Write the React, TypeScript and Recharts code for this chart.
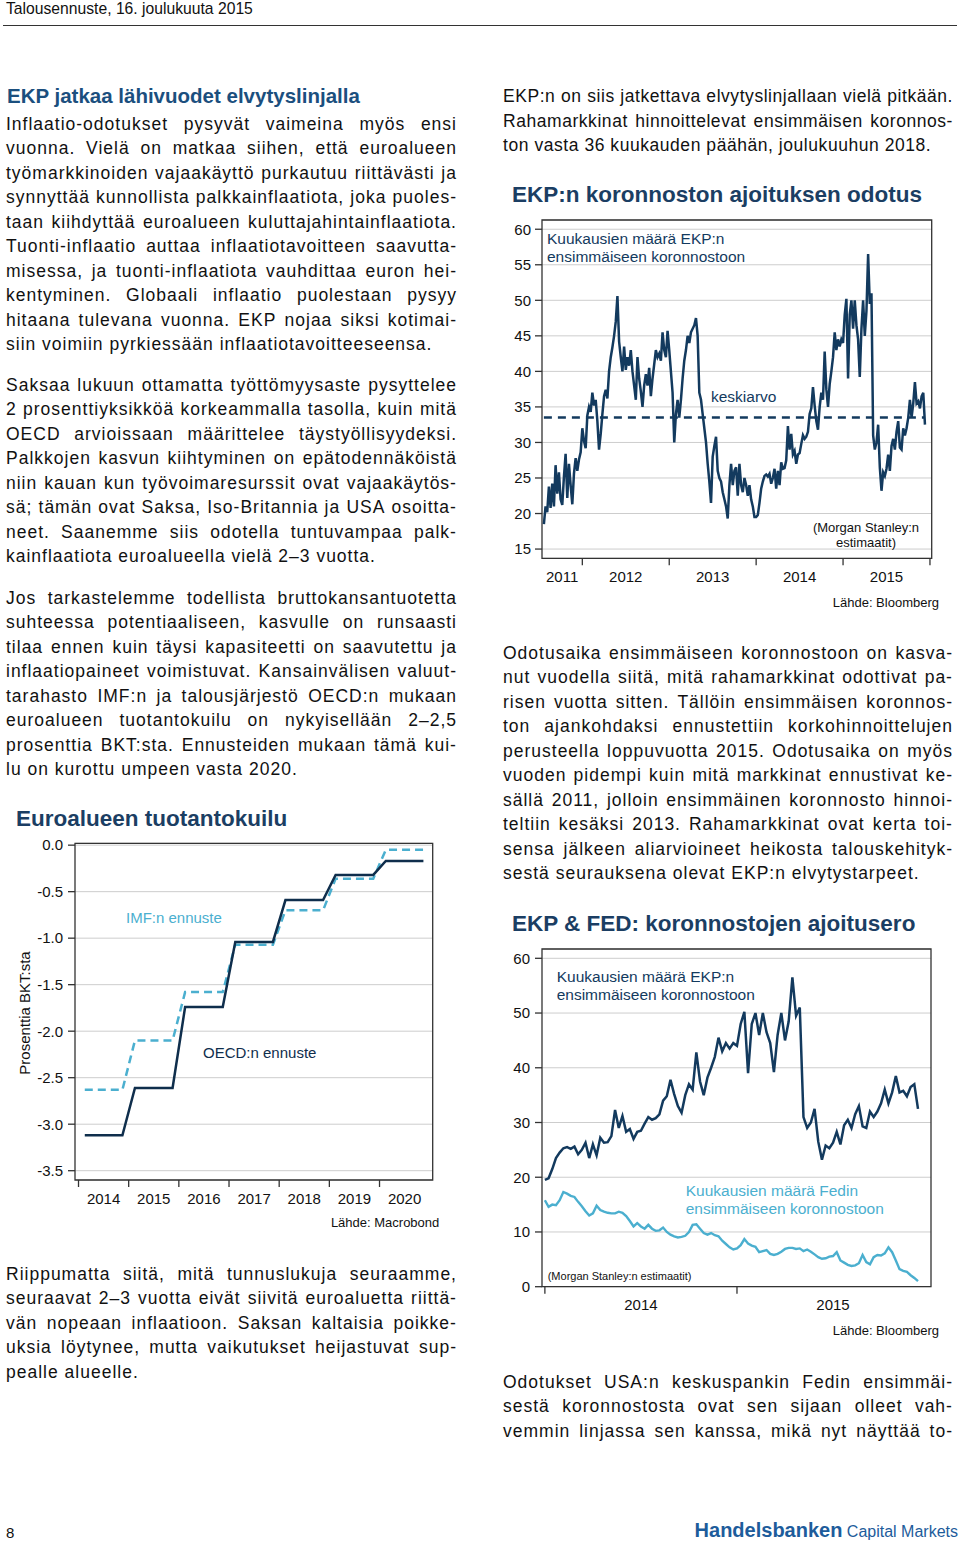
import React from "react";
import {
  CartesianGrid,
  Line,
  LineChart,
  ReferenceArea,
  ReferenceLine,
  XAxis,
  YAxis,
} from "recharts";

const FONT = '"Liberation Sans", Arial, Helvetica, sans-serif';
const NAVY = "#133a5e";
const TEAL = "#4bafcf";
const TITLE_BLUE = "#1b4f7e";
const TITLE_NAVY = "#1b3e63";
const LH = 24.5;

// EKP: kuukausia ensimmäiseen koronnostoon, viikkohavainnot heinäkuu 2011 - joulukuu 2013
const ekpEarly = [
  18.5, 21.0, 20.2, 23.8, 20.8, 24.2, 21.0, 26.8, 22.8, 25.8,
  22.0, 21.2, 25.2, 28.4, 22.2, 27.0, 24.0, 21.3, 25.6, 27.8,
  26.0, 27.6, 28.6, 32.0, 30.2, 29.2, 33.8, 35.0, 34.3, 37.0,
  35.2, 36.0, 33.0, 29.0, 31.2, 34.0, 36.5, 37.4, 36.2, 40.0,
  42.0, 43.4, 45.0, 47.0, 50.6, 44.2, 42.0, 40.0, 43.5, 40.2,
  42.0, 40.8, 43.0, 40.0, 38.0, 36.0, 42.0, 39.0, 37.2, 35.0,
  38.0, 39.6, 38.0, 40.5, 36.5, 39.0, 41.0, 43.0, 42.0, 42.5,
  41.5, 45.5, 43.0, 42.0, 45.7, 43.0, 40.0, 37.0, 30.0, 34.0,
  36.0, 33.5, 36.0, 39.0, 41.5, 43.0, 45.0, 44.0, 45.5, 46.0,
  46.5, 47.5, 45.0, 37.0, 36.0, 34.0, 32.0, 30.0, 27.0, 24.5,
  21.5, 28.0, 29.5, 30.8, 26.0, 25.0, 24.5, 23.0, 22.0, 21.0,
  19.3, 24.0, 27.0, 24.0, 26.0, 26.5, 22.5, 27.0, 24.0, 23.0,
  25.0, 24.0, 22.5, 24.0, 22.0, 21.0, 19.5,
];

// EKP, viikkohavainnot tammikuu 2014 - joulukuu 2015
const ekpLate = [
  19.5, 19.8, 21.5, 23.5, 24.5, 25.3, 25.5, 25.2, 25.6, 24.2,
  25.0, 26.3, 23.5, 26.0, 24.0, 27.2, 26.3, 26.4, 27.5, 32.3,
  29.0, 31.2, 28.3, 28.8, 27.0, 28.3, 28.5, 29.8, 31.0, 30.5,
  30.8, 31.5, 34.0, 34.8, 37.8, 35.2, 33.0, 31.8, 35.0, 37.0,
  36.0, 42.8, 37.5, 35.0, 38.2, 40.0, 42.0, 45.5, 43.0, 44.5,
  43.5, 44.5, 44.0, 48.0, 50.2, 39.0, 48.0, 50.0, 46.0, 50.0,
  46.5, 44.5, 39.2, 46.0, 50.0, 45.0, 48.5, 56.5, 49.5, 51.0,
  31.0, 29.0, 30.0, 32.5, 26.5, 23.2, 25.8, 25.3, 26.3, 28.3,
  26.0, 29.5, 30.5, 29.0, 31.5, 33.0, 29.3, 29.0, 32.0, 31.0,
  32.0, 33.5, 36.0, 33.5, 35.5, 38.5, 35.5, 35.8, 34.8, 36.5,
  37.0, 32.5,
];

// Fed, viikkohavainnot tammikuu 2014 - joulukuu 2015
const fedLate = [
  15.8, 14.6, 15.0, 14.9, 15.8, 17.3, 17.0, 16.6, 16.4, 15.5,
  14.7, 13.8, 13.0, 13.4, 14.8, 14.0, 13.7, 13.5, 13.4, 13.4,
  13.7, 13.5, 12.9, 12.0, 11.0, 11.6, 11.0, 10.6, 11.3, 10.6,
  10.2, 10.3, 10.8, 10.0, 9.5, 9.2, 9.0, 9.1, 9.3, 10.0,
  11.3, 11.4, 10.6, 9.8, 9.5, 9.8, 9.4, 9.2, 8.4, 7.8,
  7.2, 6.8, 7.0, 7.6, 8.7, 7.9, 7.5, 7.3, 6.3, 6.5,
  6.7, 6.0, 5.8, 6.0, 6.4, 6.9, 7.1, 7.1, 6.9, 7.0,
  6.5, 6.8, 6.4, 5.9, 5.4, 5.1, 5.2, 5.5, 5.6, 6.3,
  4.8, 4.4, 4.0, 3.8, 3.9, 4.3, 5.8, 4.5, 4.1, 5.4,
  5.8, 5.7, 6.1, 7.2, 6.3, 4.8, 3.2, 2.9, 2.7, 2.1,
  1.6, 1.0,
];

const ekpAverage = 33.5;

// Tuotantokuilu, % BKT:sta
const gapYears = [2014, 2015, 2016, 2017, 2018, 2019, 2020];
const oecdGap = [-3.12, -2.61, -1.74, -1.04, -0.59, -0.32, -0.17];
const imfGap = [-2.63, -2.1, -1.58, -1.07, -0.7, -0.36, -0.05];

const ecbYears = [2011, 2012, 2013, 2014, 2015];
const spreadYears = [2014, 2015];

const ecbData = [
  ...ekpEarly.map((v, i) => ({ t: 2014 - (ekpEarly.length - i) / 52, ekp: v })),
  ...ekpLate.map((v, i) => ({ t: 2014 + i / 52, ekp: v })),
];
const spreadData = ekpLate.map((v, i) => ({ t: 2014 + i / 52, ekp: v, fed: fedLate[i] }));
const gapData = gapYears.flatMap((y, i) =>
  [0, 1, 2, 3].map((q) => ({ t: y + 0.125 + 0.25 * q, oecd: oecdGap[i], imf: imfGap[i] }))
);

function labelPos(years: number[], lo: number, hi: number) {
  return years.map((y) => (Math.max(y, lo) + Math.min(y + 1, hi)) / 2);
}

function yearTick(marks: number[], labels: number[], names: number[]) {
  return (props: any) => {
    const { x, y, payload } = props;
    const idx = labels.findIndex((l) => Math.abs(l - payload.value) < 1e-6);
    if (idx >= 0) {
      return (
        <text x={x} y={y + 23.5} textAnchor="middle" fontSize={15} fill="#111">
          {names[idx]}
        </text>
      );
    }
    if (marks.some((m) => m === payload.value)) {
      return <line x1={x} x2={x} y1={y} y2={y + 7} stroke="#333" strokeWidth={1.3} />;
    }
    return <g />;
  };
}

const ECB_DOMAIN: [number, number] = [2011.536, 2016.02];
const ecbMarks = [2012, 2013, 2014, 2015, 2016];
const ecbLabels = labelPos(ecbYears, ECB_DOMAIN[0], ECB_DOMAIN[1]);

const SPREAD_DOMAIN: [number, number] = [2013.985, 2016.01];
const spreadMarks = [2014, 2015];
const spreadLabels = labelPos(spreadYears, SPREAD_DOMAIN[0], SPREAD_DOMAIN[1]);

const GAP_DOMAIN: [number, number] = [2013.93, 2021.06];
const gapMarks = gapYears;
const gapLabels = labelPos(gapYears, GAP_DOMAIN[0], GAP_DOMAIN[1]);

function EcbChart() {
  const yDom: [number, number] = [13.7, 61.3];
  return (
    <div style={{ position: "absolute", left: 500, top: 210, fontFamily: FONT }}>
      <LineChart width={450} height={390} data={ecbData} margin={{ top: 10, right: 18.3, bottom: 11.7, left: 0 }}>
        <CartesianGrid vertical={false} stroke="#cdcdcd" />
        <XAxis
          type="number"
          dataKey="t"
          domain={ECB_DOMAIN}
          allowDataOverflow
          ticks={[...ecbMarks, ...ecbLabels].sort((a, b) => a - b)}
          interval={0}
          tickSize={0}
          tickMargin={0}
          tickLine={false}
          axisLine={false}
          height={30}
          tick={yearTick(ecbMarks, ecbLabels, ecbYears)}
        />
        <YAxis
          type="number"
          domain={yDom}
          allowDataOverflow
          ticks={[15, 20, 25, 30, 35, 40, 45, 50, 55, 60]}
          interval={0}
          width={42}
          tickSize={7}
          tickMargin={4}
          axisLine={false}
          tickLine={{ stroke: "#333", strokeWidth: 1.3 }}
          tick={{ fontSize: 15, fill: "#111" }}
        />
        <ReferenceLine
          segment={[
            { x: ecbData[0].t, y: ekpAverage },
            { x: ecbData[ecbData.length - 1].t, y: ekpAverage },
          ]}
          stroke={NAVY}
          strokeWidth={2.5}
          strokeDasharray="8 6"
        />
        <Line type="linear" dataKey="ekp" stroke={NAVY} strokeWidth={2.5} dot={false} isAnimationActive={false} />
        <ReferenceArea x1={ECB_DOMAIN[0]} x2={ECB_DOMAIN[1]} y1={yDom[0]} y2={yDom[1]} fill="none" stroke="#333" strokeWidth={1.3} />
      </LineChart>
    </div>
  );
}

function SpreadChart() {
  const yDom: [number, number] = [0, 61.7];
  return (
    <div style={{ position: "absolute", left: 500, top: 940, fontFamily: FONT }}>
      <LineChart width={450} height={390} data={spreadData} margin={{ top: 9, right: 19, bottom: 13.3, left: 0 }}>
        <CartesianGrid vertical={false} stroke="#cdcdcd" />
        <XAxis
          type="number"
          dataKey="t"
          domain={SPREAD_DOMAIN}
          allowDataOverflow
          ticks={[...spreadMarks, ...spreadLabels].sort((a, b) => a - b)}
          interval={0}
          tickSize={0}
          tickMargin={0}
          tickLine={false}
          axisLine={false}
          height={30}
          tick={yearTick(spreadMarks, spreadLabels, spreadYears)}
        />
        <YAxis
          type="number"
          domain={yDom}
          allowDataOverflow
          ticks={[0, 10, 20, 30, 40, 50, 60]}
          interval={0}
          width={42}
          tickSize={7}
          tickMargin={5}
          axisLine={false}
          tickLine={{ stroke: "#333", strokeWidth: 1.3 }}
          tick={{ fontSize: 15, fill: "#111" }}
        />
        <Line type="linear" dataKey="fed" stroke={TEAL} strokeWidth={2.4} dot={false} isAnimationActive={false} />
        <Line type="linear" dataKey="ekp" stroke={NAVY} strokeWidth={2.5} dot={false} isAnimationActive={false} />
        <ReferenceArea x1={SPREAD_DOMAIN[0]} x2={SPREAD_DOMAIN[1]} y1={yDom[0]} y2={yDom[1]} fill="none" stroke="#333" strokeWidth={1.3} />
      </LineChart>
    </div>
  );
}

function GapChart() {
  const yDom: [number, number] = [-3.6, 0.02];
  return (
    <div style={{ position: "absolute", left: 0, top: 835, fontFamily: FONT }}>
      <LineChart width={460} height={380} data={gapData} margin={{ top: 8.3, right: 27.3, bottom: 5, left: 0 }}>
        <CartesianGrid vertical={false} stroke="#cdcdcd" />
        <XAxis
          type="number"
          dataKey="t"
          domain={GAP_DOMAIN}
          allowDataOverflow
          ticks={[...gapMarks, ...gapLabels].sort((a, b) => a - b)}
          interval={0}
          tickSize={0}
          tickMargin={0}
          tickLine={false}
          axisLine={false}
          height={30}
          tick={yearTick(gapMarks, gapLabels, gapYears)}
        />
        <YAxis
          type="number"
          domain={yDom}
          allowDataOverflow
          ticks={[0, -0.5, -1, -1.5, -2, -2.5, -3, -3.5]}
          interval={0}
          width={75}
          tickSize={7}
          tickMargin={5}
          axisLine={false}
          tickLine={{ stroke: "#333", strokeWidth: 1.3 }}
          tickFormatter={(v: number) => v.toFixed(1)}
          tick={{ fontSize: 15, fill: "#111" }}
        />
        <Line type="linear" dataKey="imf" stroke={TEAL} strokeWidth={2.5} strokeDasharray="8 5" dot={false} isAnimationActive={false} />
        <Line type="linear" dataKey="oecd" stroke="#0f2e4c" strokeWidth={2.5} dot={false} isAnimationActive={false} />
        <ReferenceArea x1={GAP_DOMAIN[0]} x2={GAP_DOMAIN[1]} y1={yDom[0]} y2={yDom[1]} fill="none" stroke="#333" strokeWidth={1.3} />
      </LineChart>
    </div>
  );
}

// justified lines laid out word by word so they never wrap
function Paragraph({ x, top, width, lines, size = 17.5, spacing = 1, justifyLast = false }: any) {
  return (
    <div style={{ position: "absolute", left: x, top, width, fontFamily: FONT, fontSize: size, letterSpacing: spacing, lineHeight: `${LH}px`, color: "#111" }}>
      {lines.map((l: string, i: number) => {
        const last = i === lines.length - 1 && !justifyLast;
        if (last) {
          return (
            <div key={i} style={{ height: LH, whiteSpace: "nowrap" }}>
              {l}
            </div>
          );
        }
        return (
          <div key={i} style={{ height: LH, display: "flex", justifyContent: "space-between", whiteSpace: "nowrap" }}>
            {l.split(" ").map((w, j) => (
              <span key={j}>{w}</span>
            ))}
          </div>
        );
      })}
    </div>
  );
}

function Note({ x, y, text, size = 15.5, color = NAVY, lh = 18, align = "left", w }: any) {
  const rows = text.split("\n");
  return (
    <div
      style={{
        position: "absolute",
        left: x,
        top: y - lh / 2,
        width: w,
        fontFamily: FONT,
        fontSize: size,
        lineHeight: `${lh}px`,
        color,
        textAlign: align,
        whiteSpace: "nowrap",
      }}
    >
      {rows.map((r: string, i: number) => (
        <div key={i}>{r}</div>
      ))}
    </div>
  );
}

function Title({ x, y, text, size = 22.5, color = TITLE_NAVY }: any) {
  return (
    <div
      style={{
        position: "absolute",
        left: x,
        top: y - 13,
        fontFamily: FONT,
        fontWeight: "bold",
        fontSize: size,
        lineHeight: "26px",
        color,
        whiteSpace: "nowrap",
      }}
    >
      {text}
    </div>
  );
}

const left1 = [
  "Inflaatio-odotukset pysyvät vaimeina myös ensi",
  "vuonna. Vielä on matkaa siihen, että euroalueen",
  "työmarkkinoiden vajaakäyttö purkautuu riittävästi ja",
  "synnyttää kunnollista palkkainflaatiota, joka puoles-",
  "taan kiihdyttää euroalueen kuluttajahintainflaatiota.",
  "Tuonti-inflaatio auttaa inflaatiotavoitteen saavutta-",
  "misessa, ja tuonti-inflaatiota vauhdittaa euron hei-",
  "kentyminen. Globaali inflaatio puolestaan pysyy",
  "hitaana tulevana vuonna. EKP nojaa siksi kotimai-",
  "siin voimiin pyrkiessään inflaatiotavoitteeseensa.",
];
const left2 = [
  "Saksaa lukuun ottamatta työttömyysaste pysyttelee",
  "2 prosenttiyksikköä korkeammalla tasolla, kuin mitä",
  "OECD arvioissaan määrittelee täystyöllisyydeksi.",
  "Palkkojen kasvun kiihtyminen on epätodennäköistä",
  "niin kauan kun työvoimaresurssit ovat vajaakäytös-",
  "sä; tämän ovat Saksa, Iso-Britannia ja USA osoitta-",
  "neet. Saanemme siis odotella tuntuvampaa palk-",
  "kainflaatiota euroalueella vielä 2–3 vuotta.",
];
const left3 = [
  "Jos tarkastelemme todellista bruttokansantuotetta",
  "suhteessa potentiaaliseen, kasvulle on runsaasti",
  "tilaa ennen kuin täysi kapasiteetti on saavutettu ja",
  "inflaatiopaineet voimistuvat. Kansainvälisen valuut-",
  "tarahasto IMF:n ja talousjärjestö OECD:n mukaan",
  "euroalueen tuotantokuilu on nykyisellään 2–2,5",
  "prosenttia BKT:sta. Ennusteiden mukaan tämä kui-",
  "lu on kurottu umpeen vasta 2020.",
];
const left4 = [
  "Riippumatta siitä, mitä tunnuslukuja seuraamme,",
  "seuraavat 2–3 vuotta eivät siivitä euroaluetta riittä-",
  "vän nopeaan inflaatioon. Saksan kaltaisia poikke-",
  "uksia löytynee, mutta vaikutukset heijastuvat sup-",
  "pealle alueelle.",
];
const right1 = [
  "EKP:n on siis jatkettava elvytyslinjallaan vielä pitkään.",
  "Rahamarkkinat hinnoittelevat ensimmäisen koronnos-",
  "ton vasta 36 kuukauden päähän, joulukuuhun 2018.",
];
const right2 = [
  "Odotusaika ensimmäiseen koronnostoon on kasva-",
  "nut vuodella siitä, mitä rahamarkkinat odottivat pa-",
  "risen vuotta sitten. Tällöin ensimmäisen koronnos-",
  "ton ajankohdaksi ennustettiin korkohinnoittelujen",
  "perusteella loppuvuotta 2015. Odotusaika on myös",
  "vuoden pidempi kuin mitä markkinat ennustivat ke-",
  "sällä 2011, jolloin ensimmäinen koronnosto hinnoi-",
  "teltiin kesäksi 2013. Rahamarkkinat ovat kerta toi-",
  "sensa jälkeen aliarvioineet heikosta talouskehityk-",
  "sestä seurauksena olevat EKP:n elvytystarpeet.",
];
const right3 = [
  "Odotukset USA:n keskuspankin Fedin ensimmäi-",
  "sestä koronnostosta ovat sen sijaan olleet vah-",
  "vemmin linjassa sen kanssa, mikä nyt näyttää to-",
];

export default function App() {
  return (
    <div style={{ position: "absolute", left: 0, top: 0, width: 960, height: 1545, background: "#fff", overflow: "hidden", fontFamily: FONT }}>
      <div style={{ position: "absolute", left: 6, top: 0, fontSize: 15.7, lineHeight: "17px", color: "#111" }}>
        Talousennuste, 16. joulukuuta 2015
      </div>
      <div style={{ position: "absolute", left: 3, top: 24.5, width: 954, height: 1.5, background: "#333" }} />

      <Title x={7} y={96} text="EKP jatkaa lähivuodet elvytyslinjalla" size={20.5} color={TITLE_BLUE} />
      <Paragraph x={6} top={124 - LH / 2} width={451} lines={left1} />
      <Paragraph x={6} top={385 - LH / 2} width={451} lines={left2} />
      <Paragraph x={6} top={598 - LH / 2} width={451} lines={left3} />
      <Paragraph x={6} top={1274 - LH / 2} width={451} lines={left4} />

      <Paragraph x={503} top={96.5 - LH / 2} width={450} lines={right1} spacing={0.55} />
      <Paragraph x={503} top={653 - LH / 2} width={450} lines={right2} />
      <Paragraph x={503} top={1382 - LH / 2} width={450} lines={right3} justifyLast />

      <Title x={512} y={195} text="EKP:n koronnoston ajoituksen odotus" />
      <EcbChart />
      <Note x={547} y={239.3} text={"Kuukausien määrä EKP:n\nensimmäiseen koronnostoon"} lh={18} />
      <Note x={711} y={396.7} text="keskiarvo" />
      <Note x={796} y={527.7} w={140} align="center" size={13} lh={15.5} color="#111" text={"(Morgan Stanley:n\nestimaatit)"} />
      <Note x={790} y={602.7} w={149} align="right" size={13} lh={16} color="#111" text="Lähde: Bloomberg" />

      <Title x={16} y={819} text="Euroalueen tuotantokuilu" />
      <GapChart />
      <Note x={126} y={918.3} text="IMF:n ennuste" color={TEAL} size={15} />
      <Note x={203} y={1053.3} text="OECD:n ennuste" color="#0f2e4c" size={15} />
      <div
        style={{
          position: "absolute",
          left: 25 - 100,
          top: 1012.5 - 9,
          width: 200,
          lineHeight: "18px",
          fontSize: 15,
          textAlign: "center",
          color: "#111",
          transform: "rotate(-90deg)",
        }}
      >
        Prosenttia BKT:sta
      </div>
      <Note x={290} y={1223.3} w={149.3} align="right" size={13} lh={16} color="#111" text="Lähde: Macrobond" />

      <Title x={512} y={924} text="EKP & FED: koronnostojen ajoitusero" />
      <SpreadChart />
      <Note x={556.7} y={977.3} text={"Kuukausien määrä EKP:n\nensimmäiseen koronnostoon"} lh={17.7} />
      <Note x={685.7} y={1191} text={"Kuukausien määrä Fedin\nensimmäiseen koronnostoon"} lh={18.3} color={TEAL} />
      <Note x={547.7} y={1275.7} size={11} lh={14} color="#111" text="(Morgan Stanley:n estimaatit)" />
      <Note x={790} y={1331} w={149} align="right" size={13} lh={16} color="#111" text="Lähde: Bloomberg" />

      <div style={{ position: "absolute", left: 6, top: 1524, fontSize: 15, lineHeight: "18px", color: "#111" }}>8</div>
      <div style={{ position: "absolute", left: 560, top: 1518, width: 398, textAlign: "right", lineHeight: "24px", whiteSpace: "nowrap", color: "#1d5c9b" }}>
        <span style={{ fontWeight: "bold", fontSize: 20 }}>Handelsbanken</span>
        <span style={{ fontSize: 16 }}> Capital Markets</span>
      </div>
    </div>
  );
}
